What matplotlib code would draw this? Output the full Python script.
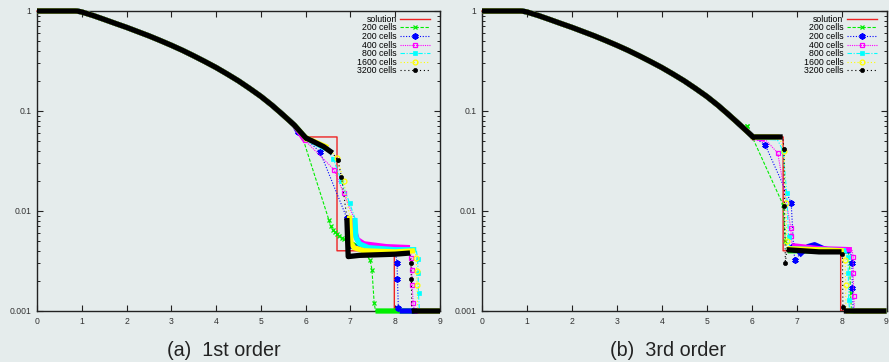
import matplotlib
matplotlib.use("Agg")
import matplotlib.pyplot as plt
from matplotlib.lines import Line2D
import numpy as np

plt.rcParams['font.family'] = ['Liberation Sans', 'DejaVu Sans']

# ---------------- data ----------------
# shared smooth rarefaction part
rare_x = [0.0, 0.85, 0.9, 1.0, 1.25, 1.5, 1.75, 2.0, 2.25, 2.5, 2.75, 3.0, 3.25,
          3.5, 3.75, 4.0, 4.25, 4.5, 4.75, 5.0, 5.25, 5.5, 5.75]
rare_y = [1.0, 1.0, 0.998, 0.977, 0.902, 0.824, 0.751, 0.686, 0.622, 0.564, 0.507,
          0.454, 0.404, 0.356, 0.312, 0.272, 0.234, 0.200, 0.168, 0.140, 0.114,
          0.091, 0.072]

sol_x = rare_x + [6.0, 6.70, 6.70, 7.98, 7.98, 9.0]
sol_y = rare_y + [0.055, 0.055, 0.004, 0.004, 0.001, 0.001]

labels = ["200 cells", "200 cells", "400 cells", "800 cells", "1600 cells", "3200 cells"]

# ---- (a) 1st order ---- ; *_d = 1 where output points are densely packed
a_g_x = [5.9, 6.52, 6.56, 6.6, 6.65, 6.7, 6.75, 6.81, 6.86, 6.92, 6.95, 7.1, 7.3, 7.44, 7.48, 7.53, 7.56, 9.0]
a_g_y = [0.06, 0.0081, 0.0071, 0.0065, 0.0062, 0.0059, 0.0056, 0.0054, 0.0052, 0.0051, 0.0049, 0.0045, 0.0040, 0.0032, 0.0026, 0.0012, 0.001, 0.001]
a_g_d = [1, 0, 0, 0, 0, 0, 0, 0, 0, 0, 1, 1, 1, 0, 0, 0, 1, 1]

a_b_x = [5.83, 6.32, 6.92, 6.95, 7.5, 8.0, 8.04, 8.05, 8.07, 8.1, 9.0]
a_b_y = [0.062, 0.039, 0.0085, 0.0045, 0.004, 0.004, 0.003, 0.0021, 0.00107, 0.001, 0.001]
a_b_d = [1, 0, 0, 1, 1, 1, 0, 0, 0, 1, 1]

a_m_x = [5.98, 6.63, 6.85, 7.08, 7.1, 7.15, 7.3, 7.8, 8.33, 8.36, 8.37, 8.38, 8.40, 8.43, 9.0]
a_m_y = [0.051, 0.026, 0.015, 0.0085, 0.0062, 0.0052, 0.0047, 0.0044, 0.0043, 0.0034, 0.0026, 0.0018, 0.0012, 0.001, 0.001]
a_m_d = [1, 0, 0, 1, 1, 1, 1, 1, 1, 0, 0, 0, 0, 1, 1]

a_c_x = [6.0, 6.45, 6.62, 6.8, 6.98, 7.1, 7.12, 7.2, 7.4, 8.0, 8.47, 8.5, 8.51, 8.52, 8.54, 9.0]
a_c_y = [0.054, 0.042, 0.033, 0.02, 0.012, 0.0085, 0.0055, 0.0047, 0.0043, 0.0041, 0.0041, 0.0033, 0.0024, 0.0015, 0.001, 0.001]
a_c_d = [1, 1, 0, 0, 0, 1, 1, 1, 1, 1, 1, 0, 0, 0, 1, 1]

a_y_x = [6.0, 6.5, 6.7, 6.85, 6.98, 7.01, 7.08, 7.3, 8.0, 8.44, 8.47, 8.48, 8.49, 8.5, 9.0]
a_y_y = [0.054, 0.043, 0.034, 0.02, 0.009, 0.0048, 0.0043, 0.0040, 0.0039, 0.004, 0.0034, 0.0025, 0.0018, 0.001, 0.001]
a_y_d = [1, 1, 0, 0, 1, 1, 1, 1, 1, 1, 0, 0, 0, 1, 1]

a_k_x = [6.0, 6.4, 6.6, 6.72, 6.8, 6.92, 6.95, 7.2, 8.0, 8.33, 8.35, 8.36, 8.37, 9.0]
a_k_y = [0.054, 0.044, 0.038, 0.032, 0.022, 0.0085, 0.0035, 0.0036, 0.0037, 0.0038, 0.003, 0.0021, 0.001, 0.001]
a_k_d = [1, 1, 1, 0, 0, 1, 1, 1, 1, 1, 0, 0, 1, 1]

# ---- (b) 3rd order ----
b_g_x = [5.9, 6.70, 6.75, 6.8, 8.0, 8.15, 8.18, 8.2, 8.22, 9.0]
b_g_y = [0.071, 0.0115, 0.005, 0.004, 0.004, 0.004, 0.003, 0.0015, 0.001, 0.001]
b_g_d = [0, 0, 0, 1, 1, 1, 0, 0, 1, 1]

b_b_x = [6.03, 6.30, 6.88, 6.93, 6.96, 7.05, 7.25, 7.4, 7.6, 7.8, 8.2, 8.23, 8.24, 8.26, 9.0]
b_b_y = [0.055, 0.046, 0.012, 0.0045, 0.0032, 0.0036, 0.0044, 0.0046, 0.0042, 0.004, 0.004, 0.003, 0.0017, 0.001, 0.001]
b_b_d = [1, 0, 0, 0, 0, 1, 1, 1, 1, 1, 1, 0, 0, 1, 1]

b_m_x = [6.03, 6.3, 6.58, 6.87, 6.88, 6.9, 7.5, 8.23, 8.26, 8.26, 8.27, 8.29, 9.0]
b_m_y = [0.055, 0.052, 0.038, 0.0068, 0.0056, 0.0045, 0.0042, 0.0041, 0.0035, 0.0024, 0.0014, 0.001, 0.001]
b_m_d = [1, 1, 0, 0, 0, 1, 1, 1, 0, 0, 0, 1, 1]

b_c_x = [6.03, 6.55, 6.7, 6.78, 6.82, 6.85, 8.1, 8.14, 8.15, 8.16, 8.18, 9.0]
b_c_y = [0.055, 0.054, 0.04, 0.015, 0.0055, 0.0042, 0.004, 0.0035, 0.0024, 0.0013, 0.001, 0.001]
b_c_d = [1, 1, 0, 0, 0, 1, 1, 0, 0, 0, 1, 1]

b_y_x = [6.03, 6.62, 6.72, 6.76, 6.78, 6.8, 8.05, 8.08, 8.09, 8.1, 9.0]
b_y_y = [0.055, 0.055, 0.04, 0.012, 0.005, 0.0042, 0.004, 0.0032, 0.0018, 0.001, 0.001]
b_y_d = [1, 1, 0, 0, 0, 1, 1, 0, 0, 1, 1]

b_k_x = [6.03, 6.69, 6.72, 6.73, 6.75, 6.78, 7.5, 8.0, 8.02, 8.03, 8.05, 9.0]
b_k_y = [0.055, 0.055, 0.042, 0.0112, 0.003, 0.0041, 0.0039, 0.0039, 0.0037, 0.0011, 0.001, 0.001]
b_k_d = [1, 1, 0, 0, 0, 1, 1, 1, 0, 0, 1, 1]

panel_a = [(a_g_x, a_g_y, a_g_d), (a_b_x, a_b_y, a_b_d), (a_m_x, a_m_y, a_m_d),
           (a_c_x, a_c_y, a_c_d), (a_y_x, a_y_y, a_y_d), (a_k_x, a_k_y, a_k_d)]
panel_b = [(b_g_x, b_g_y, b_g_d), (b_b_x, b_b_y, b_b_d), (b_m_x, b_m_y, b_m_d),
           (b_c_x, b_c_y, b_c_d), (b_y_x, b_y_y, b_y_d), (b_k_x, b_k_y, b_k_d)]

# ---------------- styles ----------------
BG = '#e5ecec'
styles = [
    dict(color='#00ee00', ls=(0, (3, 1.5)), marker='x', ms=3.5, mfc='none', mew=0.9),
    dict(color='#0000ff', ls=(0, (1, 1.5)), marker=(6, 2, 0), ms=4.5, mfc='#0000ff', mew=1.3),
    dict(color='#ff00ff', ls=(0, (1, 1)), marker='s', ms=3.5, mfc='none', mew=0.9),
    dict(color='#00ffff', ls=(0, (4, 1.5, 1, 1.5)), marker='s', ms=3.5, mfc='#00ffff', mew=0.5),
    dict(color='#ffff00', ls=(0, (1, 2)), marker='o', ms=3.5, mfc='none', mew=0.9),
    dict(color='#000000', ls=(0, (1, 2.5)), marker='o', ms=3.0, mfc='#000000', mew=0.5),
]

fig = plt.figure(figsize=(8.89, 3.62), dpi=100, facecolor=BG)
W, H = 889, 362
axA = fig.add_axes([37 / W, 1 - 311 / H, (440 - 37) / W, 300 / H])
axB = fig.add_axes([482 / W, 1 - 311 / H, (886.5 - 482) / W, 300 / H])


def draw(ax, panel):
    ax.set_facecolor(BG)
    ax.set_yscale('log')
    ax.set_xlim(0, 9)
    ax.set_ylim(0.001, 1)
    ax.plot(sol_x, sol_y, color='#ee2222', lw=1.0, zorder=2, clip_on=False)
    for (xs, ys, ds), st in zip(panel, styles):
        fx = rare_x + xs
        fy = rare_y + ys
        fd = [1] * len(rare_x) + ds
        # dense bands (overlapping output points)
        bx, by = [], []
        for i in range(len(fx) - 1):
            if fd[i] and fd[i + 1]:
                bx += [fx[i], fx[i + 1]]
                by += [fy[i], fy[i + 1]]
            else:
                bx.append(np.nan)
                by.append(np.nan)
        ax.plot(bx, by, color=st['color'], lw=3.8, solid_capstyle='butt',
                solid_joinstyle='round', zorder=3, clip_on=False)
        ax.plot(fx, fy, color=st['color'], ls=st['ls'], lw=0.8, zorder=3,
                clip_on=False)
        mx = [x for x, d in zip(fx, fd) if not d] + xs[:1]
        my = [y for y, d in zip(fy, fd) if not d] + ys[:1]
        ax.plot(mx, my, ls='none', marker=st['marker'], ms=st['ms'],
                mfc=st['mfc'], mec=st['color'], mew=st['mew'], zorder=3,
                clip_on=False)
    # axes styling
    ax.set_xticks(range(0, 10))
    ax.set_yticks([0.001, 0.01, 0.1, 1])
    ax.set_yticklabels(['0.001', '0.01', '0.1', '1'])
    ax.tick_params(axis='both', which='both', direction='in', top=True,
                   right=True, labelsize=6.2, colors='#222222',
                   labelcolor='#333333')
    ax.tick_params(which='major', length=4, width=0.8, pad=4)
    ax.tick_params(which='minor', length=2.5, width=0.7)
    for s in ax.spines.values():
        s.set_color('#222222')
        s.set_linewidth(1.0)
    # legend
    handles = [Line2D([], [], color='#ee2222', lw=1.0)]
    for st in styles:
        handles.append(Line2D([], [], color=st['color'], ls=st['ls'], lw=0.8,
                              marker=st['marker'], ms=st['ms'], mfc=st['mfc'],
                              mec=st['color'], mew=st['mew']))
    ax.legend(handles, ['solution'] + labels, loc='upper right',
              bbox_to_anchor=(1 - 9 / 403, 1 - 3 / 300),
              frameon=False, markerfirst=False, fontsize=6.3,
              labelspacing=-0.05, handlelength=3.4, handletextpad=0.4,
              borderaxespad=0.0, borderpad=0.1, numpoints=1)


draw(axA, panel_a)
draw(axB, panel_b)

fig.text(224 / W, 1 - 350 / H, '(a)  1st order', ha='center', va='center',
         fontsize=14.2, color='#222222')
fig.text(668 / W, 1 - 350 / H, '(b)  3rd order', ha='center', va='center',
         fontsize=14.2, color='#222222')

fig.savefig('out.png', dpi=100, facecolor=BG)
